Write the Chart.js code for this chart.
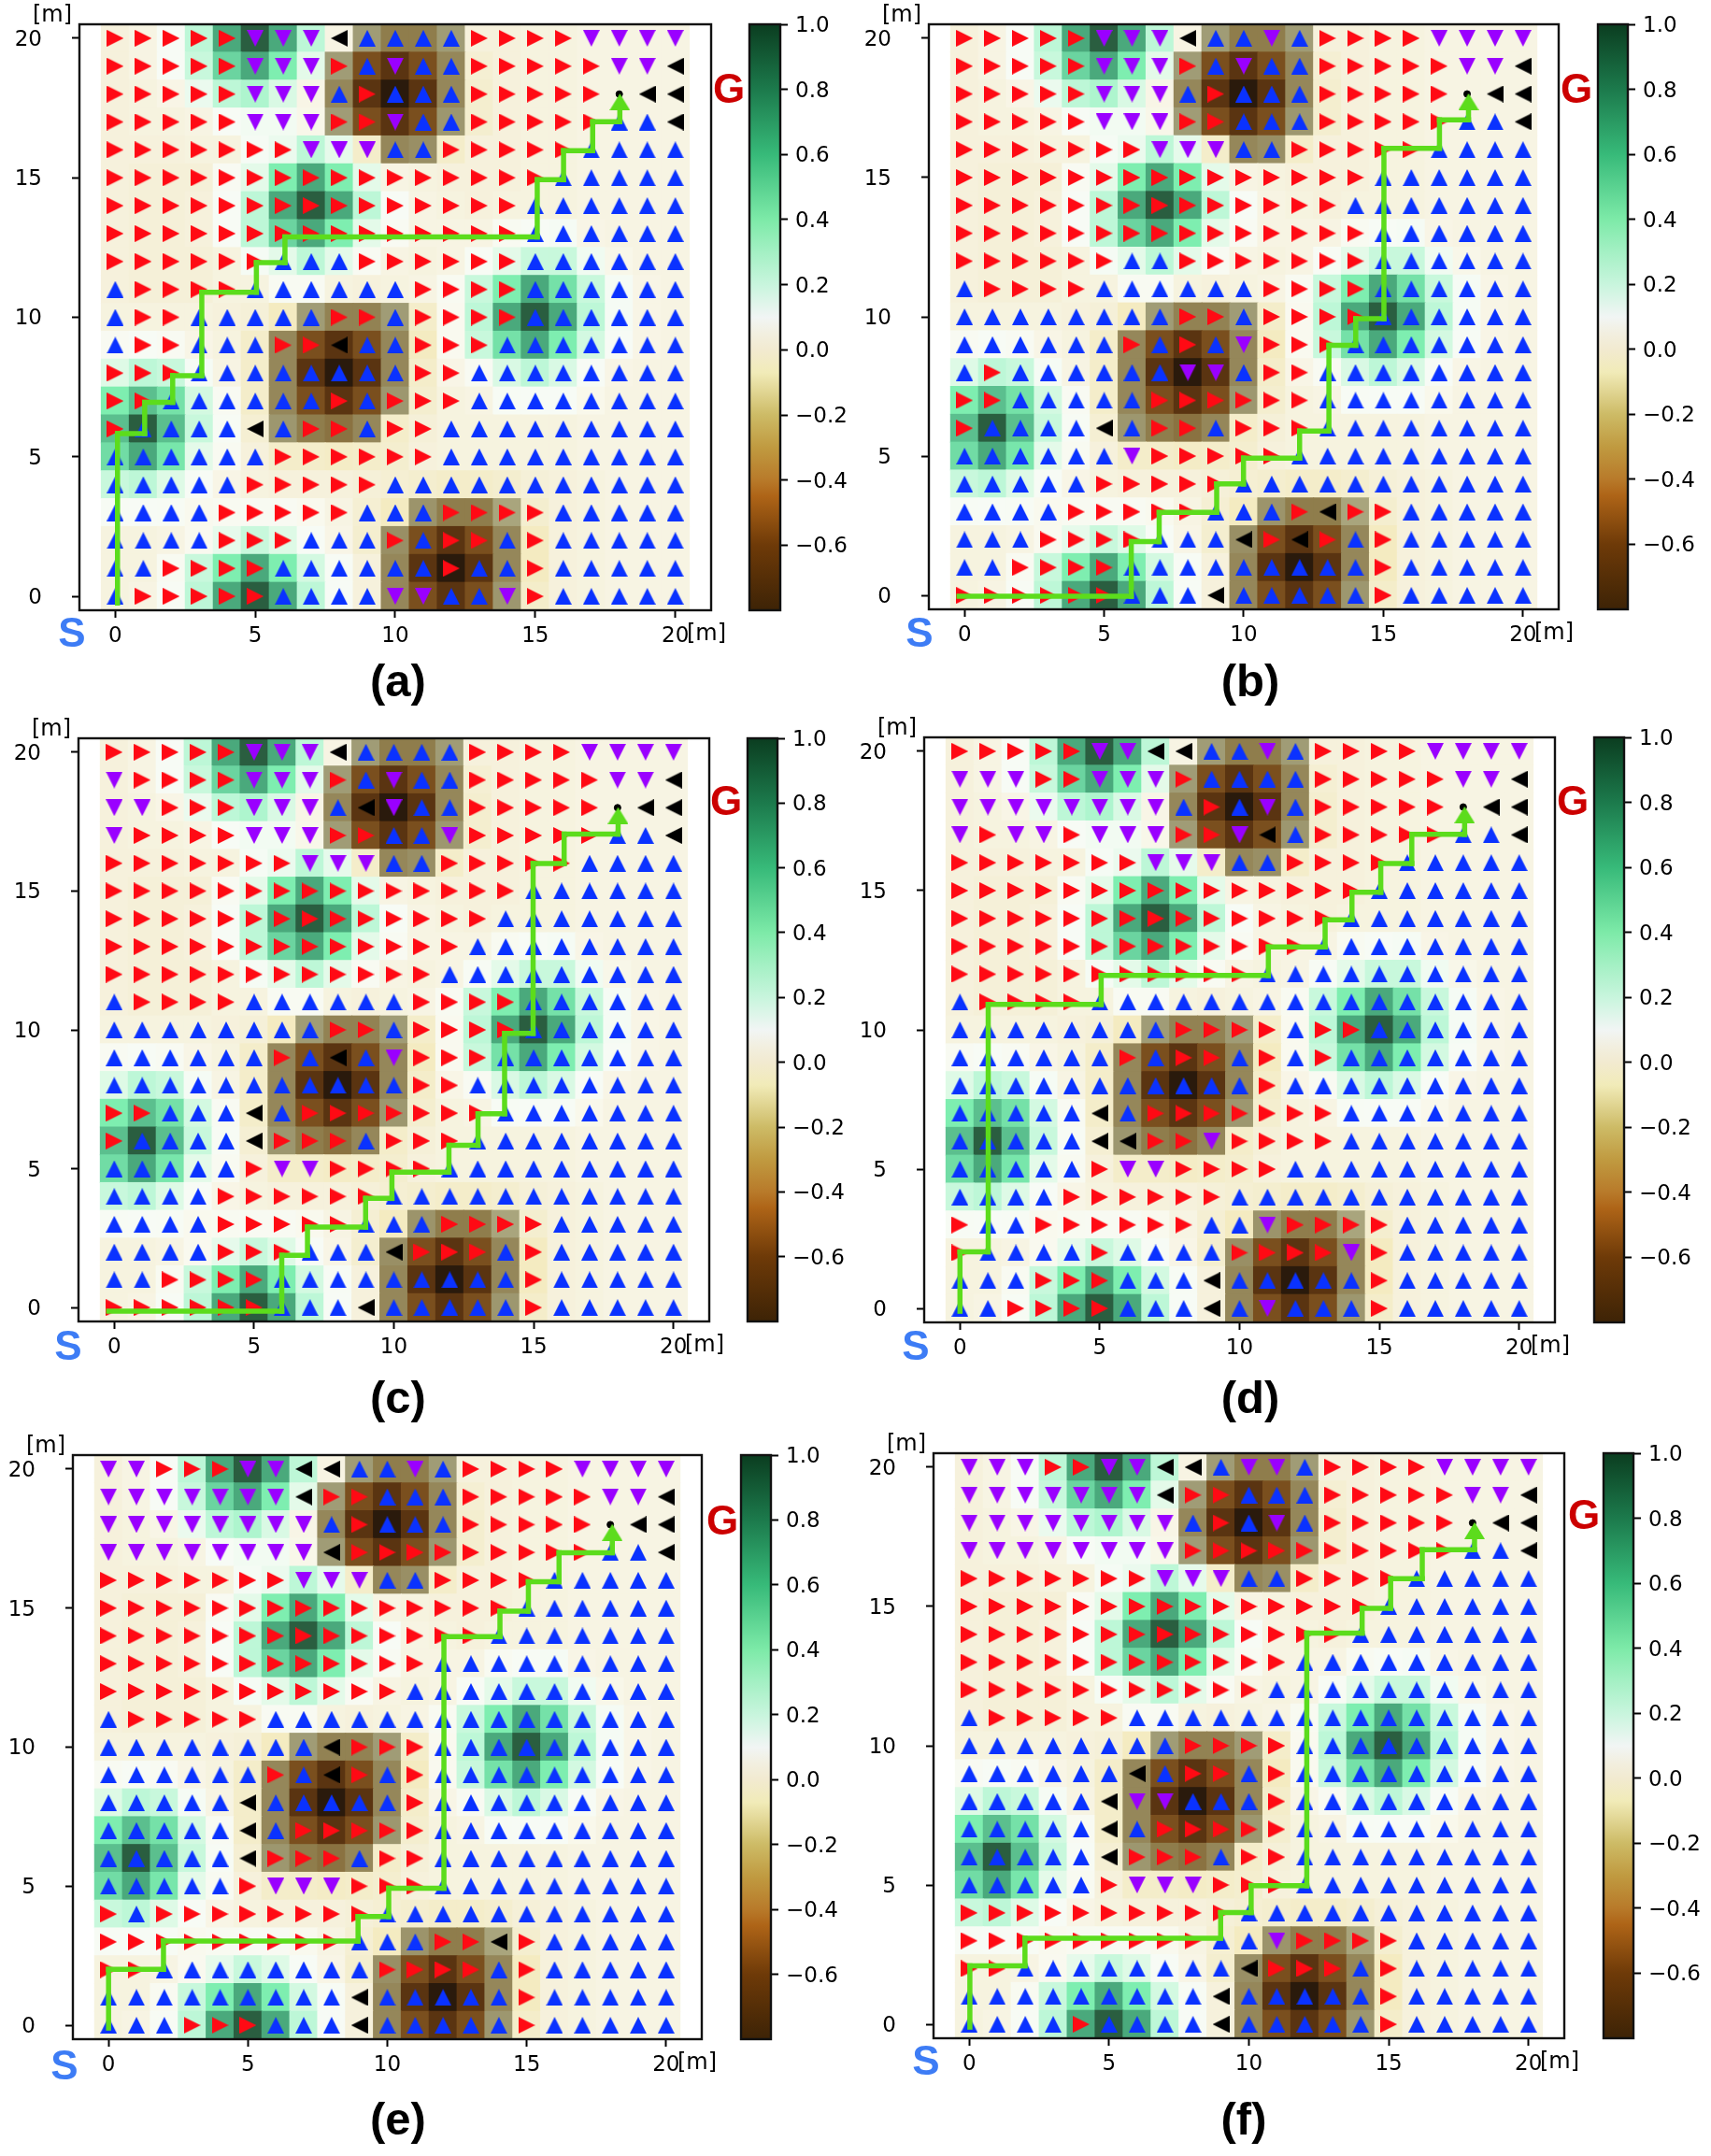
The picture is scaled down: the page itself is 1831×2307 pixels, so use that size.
<!DOCTYPE html>
<html>
<head>
<meta charset="utf-8">
<title>Six panels</title>
<script src="https://cdn.jsdelivr.net/npm/chart.js@4"></script>
<style>
  html, body { margin: 0; padding: 0; background: #fff; }
  #page { position: relative; width: 1831px; height: 2307px; overflow: hidden; }
  canvas { position: absolute; }
  .txt { position: absolute; transform: translate(-50%, -50%); line-height: 1; white-space: nowrap; }
  .unit { font: 24px "DejaVu Sans"; color: #000; }
  .mark { font: bold 44px "Liberation Sans"; }
  .title { font: bold 49px "Liberation Sans"; color: #000; }
</style>
</head>
<body>
<div id="page"></div>
<script>
// axis ticks
var xTickValues = [0, 5, 10, 15, 20];
var yTickValues = [0, 5, 10, 15, 20];
var barTickValues = [-0.6, -0.4, -0.2, 0, 0.2, 0.4, 0.6, 0.8, 1];

// heat values, top row is y=20, bottom row is y=0
var heatValues = [
  [-.04,-.02,.07,.22,.55,.8,.55,.22,-.02,-.3,-.42,-.42,-.3,-.04,-.04,-.03,-.03,-.02,-.02,-.02,-.02],
  [-.04,-.02,.07,.2,.45,.55,.35,.15,-.3,-.55,-.65,-.55,-.38,-.06,-.04,-.03,-.03,-.02,-.02,-.02,-.02],
  [-.04,-.03,-.01,.12,.22,.25,.17,-.01,-.38,-.65,-.78,-.65,-.38,-.07,-.04,-.03,-.03,-.02,-.02,-.02,-.02],
  [-.04,-.03,-.03,-.02,.07,.09,.09,0,-.3,-.55,-.65,-.55,-.32,-.07,-.04,-.03,-.03,-.02,-.02,-.02,-.02],
  [-.04,-.04,-.04,-.03,-.03,.08,.12,.22,.14,-.08,-.38,-.35,-.08,-.04,-.04,-.03,-.03,-.02,-.02,-.02,-.02],
  [-.04,-.05,-.05,-.05,.05,.15,.35,.55,.35,.15,-.02,-.03,-.04,-.04,-.04,-.03,-.03,-.02,-.02,-.02,-.02],
  [-.04,-.05,-.05,-.04,.07,.22,.55,.8,.55,.22,.07,-.02,-.03,-.04,-.03,-.03,-.03,-.02,-.02,-.02,-.02],
  [-.04,-.05,-.05,-.04,.07,.22,.45,.55,.35,.15,.05,-.02,-.02,-.02,.04,.07,.08,-.01,-.02,-.02,-.02],
  [-.04,-.05,-.05,-.05,-.03,.08,.15,.22,.15,.05,-.02,-.03,-.02,.06,.15,.2,.2,.1,0,-.02,-.02],
  [-.04,-.05,-.05,-.05,-.03,-.03,.05,.05,-.03,-.04,-.03,-.02,.04,.2,.35,.55,.4,.2,.08,-.01,-.02],
  [-.03,-.03,-.03,-.03,-.04,-.05,-.1,-.3,-.4,-.4,-.3,-.08,.03,.22,.55,.8,.55,.22,.08,-.01,-.02],
  [.05,.07,.05,-.01,-.03,-.08,-.38,-.55,-.65,-.55,-.38,-.1,.03,.2,.4,.55,.35,.18,.07,-.01,-.02],
  [.16,.22,.2,.08,-.02,-.08,-.38,-.65,-.78,-.65,-.38,-.08,-.01,.05,.17,.22,.17,.07,-.01,-.02,-.02],
  [.35,.5,.4,.18,.05,-.08,-.38,-.55,-.65,-.55,-.32,-.07,-.03,-.02,.06,.07,.07,.01,-.02,-.02,-.02],
  [.5,.8,.5,.2,.06,-.06,-.32,-.42,-.45,-.38,-.08,-.05,-.03,-.03,-.03,-.03,-.03,-.02,-.02,-.02,-.02],
  [.42,.55,.38,.15,.04,-.04,-.08,-.08,-.09,-.08,-.07,-.04,-.03,-.03,-.03,-.03,-.03,-.02,-.02,-.02,-.02],
  [.2,.22,.16,.07,-.01,-.03,-.04,-.04,-.04,-.05,-.06,-.07,-.08,-.08,-.07,-.05,-.04,-.03,-.02,-.02,-.02],
  [.06,.07,.06,.02,.04,.05,.05,.02,-.02,-.06,-.1,-.33,-.42,-.42,-.28,-.07,-.04,-.03,-.02,-.02,-.02],
  [-.03,-.03,-.02,.03,.14,.2,.16,.07,-.01,-.07,-.35,-.55,-.65,-.55,-.38,-.1,-.04,-.03,-.02,-.02,-.02],
  [-.03,-.03,.04,.2,.35,.55,.35,.18,.06,-.04,-.38,-.65,-.78,-.65,-.38,-.1,-.04,-.03,-.02,-.02,-.02],
  [-.03,-.02,.06,.22,.55,.8,.55,.22,.07,-.04,-.38,-.55,-.65,-.55,-.32,-.08,-.04,-.03,-.02,-.02,-.02]
];

// arrow directions, top row is y=20: r u d l, dot = goal
var arrowsA = [
  "rrrrrdddluuuurrrrdddd","rrrrrdddruduurrrrrddl","rrrrrddduruuurrrrr.ll","rrrrrdddrrduurrrrruul",
  "rrrrrrrddduurrrrruuuu","rrrrrrrrrrrrrrrruuuuu","rrrrrrrrrrrrrrruuuuuu","rrrrrrrrrrrrrrruuuuuu",
  "rrrrrruuurrrrrruuuuuu","urrrruuuuuurrrruuuuuu","urruuuuurrurrrruuuuuu","urruuurrluurrruuuuuuu",
  "rrruuuuuuuurruuuuuuuu","rruuuuuururrruuuuuuuu","ruuuulurrurruuuuuuuuu","uuuuuurrrrrruuuuuuuuu",
  "uuuuurrrrruuuuuuuuuuu","uuuurrrrruuurrrruuuuu","uuuurrruuururruruuuuu","uurrrruuuuuuruuruuuuu",
  "urrrrruuuudduudruuuuu"
];
var arrowsB = [
  "rrrrrdddluudurrrrdddd","rrrrrdddruduurrrrrddl","rrrrrddduruuurrrrr.ll","rrrrrdddrruuurrrrruul",
  "rrrrrrrddduurrrrruuuu","rrrrrrrrrrrrrrruuuuuu","rrrrrrrrrrrrrruuuuuuu","rrrrrrrrrrrrrrruuuuuu",
  "rrrrrruurrrrrrruuuuuu","urrrruuuuuurrrruuuuuu","uuuuuuuurrurrrruuuuuu","uuuuuururudrrruuuuuuu",
  "uruuuuuuddurruuuuuuuu","rruuuuurrrrrruuuuuuuu","ruuuulurrurrruuuuuuuu","uuuuuudrrrrruuuuuuuuu",
  "uuuuurrrrruuuuuuuuuuu","uuuurrrrruuurlrruuuuu","uuurrrruuulrlruruuuuu","uurrrruuuuuuuuuruuuuu",
  "rrrrrruuuluuuuuruuuuu"
];
var arrowsC = [
  "rrrrrdddluuuurrrrdddd","drrrrdddruduurrrrrddl","ddrrrdddulduurrrrr.ll","drrrrdddrruudrrrrruul",
  "rrrrrrrddduurrrrruuuu","rrrrrrrrrrrrrrruuuuuu","rrrrrrrrrrrrrruuuuuuu","rrrrrrrrrrrrruuuuuuuu",
  "rrrrrrrrrrrruuuuuuuuu","urrrruuuuuurrrruuuuuu","uuuuuuuurrurrrruuuuuu","uuuuuuruludrrruuuuuuu",
  "uuuuuuuuuuurruuuuuuuu","rruuulurrrrrrruuuuuuu","ruuuulrrrurrruuuuuuuu","uuuuurddrrrruuuuuuuuu",
  "uuuurrrrrruuuuuuuuuuu","uuuurrrrruuurrrruuuuu","uuuurrruuulrrruruuuuu","uurrrruuuuuuuuuruuuuu",
  "rrrrrruuuluuuuuruuuuu"
];
var arrowsD = [
  "rrrrrddlluudurrrrdddd","dddrrdddruuuurrrrrddl","ddddddddurudurrrrr.ll","drddrdddrrdlurrrrruul",
  "rrrrrrrddduurrrruuuuu","rrrrrrrrrrrrrrruuuuuu","rrrrrrrrrrrrrruuuuuuu","rrrrrrrrrrrrruuuuuuuu",
  "rrrrrrrrrrruuuuuuuuuu","urrrruuuuuuuuuuuuuuuu","uuuuuuuurrrrurruuuuuu","uuuuuururrururuuuuuuu",
  "uuuuuuuuuuuruuuuuuuuu","uuuuulurrrrrrruuuuuuu","uuuuullrrdrrrruuuuuuu","uuuuurddrrrruuuuuuuuu",
  "uuuurrrrrruuuuuuuuuuu","ruurrrrrruudrrrruuuuu","ruuuuruuuurrrrdruuuuu","uuurrruuuluuuuuruuuuu",
  "uurrrruuuluduuuruuuuu"
];
var arrowsE = [
  "ddrrrddlluudurrrrdddd","dddddddlrruuurrrrrddl","dddddddduruuurrrrr.ll","ddddddddlrrrrrrrrruul",
  "rrrrrrrddduurrrruuuuu","rrrrrrrrrrrrrrruuuuuu","rrrrrrrrrrrrrruuuuuuu","rrrrrrrrrrrruuuuuuuuu",
  "rrrrrrrrrrruuuuuuuuuu","urrrrruuuuuuuuuuuuuuu","uuuuuuuulrrruuuuuuuuu","uuuuuurulruruuuuuuuuu",
  "uuuuuluuuuuruuuuuuuuu","uuuuulurrrrruuuuuuuuu","uuuuulrrrurruuuuuuuuu","uuuuurdddrrruuuuuuuuu",
  "rurrrrrrrruuuuuuuuuuu","rrrrrrrrruuurrlruuuuu","rruuuuuuuurrrruruuuuu","uuuuuuuuuluuuuuruuuuu",
  "uuurrruuuluuuuuruuuuu"
];
var arrowsF = [
  "dddrrddlluddurrrrdddd","dddddddlrruuurrrrrddl","ddddddddurudurrrrr.ll","ddddddddrrrrrrrrrruul",
  "rrrrrrrddduurrrruuuuu","rrrrrrrrrrrrrrruuuuuu","rrrrrrrrrrrrrruuuuuuu","rrrrrrrrrrrruuuuuuuuu",
  "rrrrrrrrrrruuuuuuuuuu","urrrrruuuuuuuuuuuuuuu","uuuuuuuurrrruuuuuuuuu","uuuuuulurruruuuuuuuuu",
  "uuuuuldduuuruuuuuuuuu","uuuuulurrrrruuuuuuuuu","uuuuulrrrurruuuuuuuuu","uuuuurdddrrruuuuuuuuu",
  "rrrrrrrrrruuuuuuuuuuu","rrrrrrrrruudrrrruuuuu","rruuuuuuuulrrruruuuuu","uuuuuuuuuluuuuuruuuuu",
  "uuuuruuuuluuuuuruuuuu"
];

// green route corners [x, y]
var pathA = [[.08,-.24],[.08,5.83],[1.05,5.83],[1.05,6.95],[2.05,6.95],[2.05,7.91],[3.09,7.91],[3.09,10.9],[5.04,10.9],[5.04,11.96],[6.06,11.96],[6.06,12.88],[15.07,12.88],[15.07,14.93],[16.01,14.93],[16.01,15.97],[17.05,15.97],[17.05,17.01],[18.02,17.01],[18.02,17.5]];
var pathB = [[-.2,-.03],[5.97,-.03],[5.97,1.93],[6.97,1.93],[6.97,2.98],[9.03,2.98],[9.03,4],[9.99,4],[9.99,4.93],[12,4.93],[12,5.9],[13.05,5.9],[13.05,8.98],[14.01,8.98],[14.01,9.93],[15.02,9.93],[15.02,16.05],[17.01,16.05],[17.01,17.07],[18.05,17.07],[18.05,17.5]];
var pathC = [[-.2,-.13],[5.99,-.13],[5.99,1.88],[6.91,1.88],[6.91,2.9],[8.99,2.9],[8.99,3.93],[9.93,3.93],[9.93,4.88],[11.97,4.88],[11.97,5.84],[13.01,5.84],[13.01,6.98],[13.96,6.98],[13.96,9.87],[14.98,9.87],[14.98,15.99],[16.09,15.99],[16.09,17.05],[18.02,17.05],[18.02,17.5]];
var pathD = [[0,-.1],[0,2.03],[1.01,2.03],[1.01,10.91],[5.05,10.91],[5.05,11.95],[11.03,11.95],[11.03,12.98],[13.06,12.98],[13.06,13.95],[14.02,13.95],[14.02,14.94],[15.05,14.94],[15.05,15.97],[16.16,15.97],[16.16,17.02],[18.05,17.02],[18.05,17.5]];
var pathE = [[0,-.1],[0,2.01],[1.97,2.01],[1.97,3.03],[8.95,3.03],[8.95,3.91],[10.05,3.91],[10.05,4.93],[12.03,4.93],[12.03,13.97],[14.04,13.97],[14.04,14.89],[15.06,14.89],[15.06,15.95],[16.16,15.95],[16.16,16.99],[18.07,16.99],[18.07,17.5]];
var pathF = [[.02,-.1],[.02,2.1],[1.99,2.1],[1.99,3.09],[8.99,3.09],[8.99,4.01],[10.08,4.01],[10.08,4.98],[12.07,4.98],[12.07,14.04],[14.05,14.04],[14.05,14.93],[15.07,14.93],[15.07,16],[16.2,16],[16.2,17.04],[18.07,17.04],[18.07,17.5]];

// colours of the cells in the picture (value, colour)
var cellStops = [
  [-.8,"#22150a"],[-.78,"#2a1a0c"],[-.65,"#5a3411"],[-.55,"#7a4f1e"],[-.42,"#8f7d4c"],[-.3,"#a09c76"],
  [-.12,"#f3e9b8"],[-.05,"#f5f0d8"],[-.02,"#f7f4e3"],[.02,"#f9f9ee"],[.07,"#f7fbf5"],[.15,"#e4fae9"],
  [.22,"#bdf7d7"],[.35,"#7eeeb0"],[.45,"#6bd4a0"],[.55,"#4aa97c"],[.8,"#2a5e40"],[1,"#0b3d20"]
];
// colours of the colour bar
var barStops = [
  [-.8,"#3d2306"],[-.6,"#6e3a08"],[-.45,"#ae6417"],[-.4,"#b87a2a"],[-.3,"#c09a40"],[-.2,"#cdbb66"],
  [-.07,"#f1ebb8"],[0,"#f2ead0"],[.05,"#f2efe0"],[.1,"#f1f5f4"],[.2,"#c8f5dd"],[.3,"#a4f0c4"],
  [.4,"#7deaa8"],[.6,"#37ba79"],[.8,"#1c7a4c"],[1,"#0b3d20"]
];

// where each panel sits on the page
var panels = [
  {arrows: arrowsA, path: pathA, title: "(a)", L: 85, R: 761, T: 26, B: 653, cbL: 802, cbR: 835, gx: 780, gy: 95, sx: 77, sy: 677, tx: 426, ty: 728},
  {arrows: arrowsB, path: pathB, title: "(b)", L: 994, R: 1668, T: 26, B: 652, cbL: 1710, cbR: 1742, gx: 1687, gy: 95, sx: 984, sy: 677, tx: 1338, ty: 728},
  {arrows: arrowsC, path: pathC, title: "(c)", L: 84, R: 759, T: 790, B: 1414, cbL: 800, cbR: 832, gx: 777, gy: 857, sx: 73, sy: 1440, tx: 426, ty: 1495},
  {arrows: arrowsD, path: pathD, title: "(d)", L: 989, R: 1664, T: 789, B: 1415, cbL: 1706, cbR: 1738, gx: 1683, gy: 857, sx: 980, sy: 1440, tx: 1338, ty: 1495},
  {arrows: arrowsE, path: pathE, title: "(e)", L: 78, R: 751, T: 1557, B: 2182, cbL: 793, cbR: 825, gx: 773, gy: 1627, sx: 69, sy: 2210, tx: 426, ty: 2267},
  {arrows: arrowsF, path: pathF, title: "(f)", L: 999, R: 1674, T: 1555, B: 2181, cbL: 1716, cbR: 1748, gx: 1695, gy: 1621, sx: 991, sy: 2205, tx: 1331, ty: 2267}
];

var arrowColours = {u: "#0a32ff", r: "#ff0a14", d: "#9a00ff", l: "#000000"};
var fontFamily = "DejaVu Sans";

function hexToRgb(hex) {
  return [parseInt(hex.substr(1, 2), 16), parseInt(hex.substr(3, 2), 16), parseInt(hex.substr(5, 2), 16)];
}

// value to colour, straight lines between the stops
function cellColour(value) {
  for (var i = 1; i < cellStops.length; i++) {
    if (value <= cellStops[i][0]) {
      var a = cellStops[i - 1], b = cellStops[i];
      var t = (value - a[0]) / (b[0] - a[0]);
      var ca = hexToRgb(a[1]), cb = hexToRgb(b[1]);
      return "rgb(" + Math.round(ca[0] + (cb[0] - ca[0]) * t) + "," +
        Math.round(ca[1] + (cb[1] - ca[1]) * t) + "," +
        Math.round(ca[2] + (cb[2] - ca[2]) * t) + ")";
    }
  }
  return cellStops[cellStops.length - 1][1];
}

// triangle picture used as a point style
function makeTriangle(dir, colour, w, h) {
  var c = document.createElement("canvas");
  c.width = w;
  c.height = h;
  var ctx = c.getContext("2d");
  ctx.fillStyle = colour;
  ctx.beginPath();
  if (dir == "u") { ctx.moveTo(w / 2, 0); ctx.lineTo(w, h); ctx.lineTo(0, h); }
  if (dir == "d") { ctx.moveTo(0, 0); ctx.lineTo(w, 0); ctx.lineTo(w / 2, h); }
  if (dir == "r") { ctx.moveTo(0, 0); ctx.lineTo(w, h / 2); ctx.lineTo(0, h); }
  if (dir == "l") { ctx.moveTo(w, 0); ctx.lineTo(w, h); ctx.lineTo(0, h / 2); }
  ctx.closePath();
  ctx.fill();
  return c;
}

var sprites = {
  u: makeTriangle("u", arrowColours.u, 18, 18),
  r: makeTriangle("r", arrowColours.r, 18, 18),
  d: makeTriangle("d", arrowColours.d, 18, 18),
  l: makeTriangle("l", arrowColours.l, 18, 18)
};
var headSprite = makeTriangle("u", "#5cdc1c", 22, 18);

// box round the plot
var framePlugin = {
  id: "frame",
  afterDraw: function(chart) {
    var a = chart.chartArea, ctx = chart.ctx;
    ctx.save();
    ctx.strokeStyle = "#111";
    ctx.lineWidth = 2.4;
    ctx.strokeRect(a.left, a.top, a.right - a.left, a.bottom - a.top);
    ctx.restore();
  }
};

function setTicks(values) {
  return function(axis) {
    axis.ticks = values.map(function(v) { return {value: v}; });
  };
}

// fixed size for an axis, and no extra room for its labels
function fixAxis(prop, size) {
  return function(s) {
    s[prop] = size;
    s.paddingTop = 0;
    s.paddingBottom = 0;
    s.paddingLeft = 0;
    s.paddingRight = 0;
  };
}

function addText(cls, text, x, y, colour) {
  var d = document.createElement("div");
  d.className = "txt " + cls;
  d.textContent = text;
  d.style.left = x + "px";
  d.style.top = y + "px";
  if (colour) d.style.color = colour;
  document.getElementById("page").appendChild(d);
}

function addCanvas(left, top, w, h) {
  var c = document.createElement("canvas");
  c.width = w;
  c.height = h;
  c.style.left = left + "px";
  c.style.top = top + "px";
  c.style.width = w + "px";
  c.style.height = h + "px";
  document.getElementById("page").appendChild(c);
  return c;
}

function drawPanel(p) {
  var leftSpace = 84, rightSpace = 8, topSpace = 10, bottomSpace = 50;
  var canvas = addCanvas(p.L - leftSpace, p.T - topSpace, p.R - p.L + leftSpace + rightSpace, p.B - p.T + topSpace + bottomSpace);
  var xMin = -1.28, xMax = 21.28;

  // heat cells as floating bars
  var cells = [], colours = [];
  heatValues.forEach(function(row, r) {
    row.forEach(function(v, col) {
      var y = 20 - r;
      cells.push({x: col, y: [y - 0.5, y + 0.5]});
      colours.push(cellColour(v));
    });
  });

  var datasets = [{
    type: "bar",
    data: cells,
    backgroundColor: colours,
    barThickness: (p.R - p.L) / (xMax - xMin),
    inflateAmount: 0.5,
    borderWidth: 0,
    order: 5
  }];

  // one set of points for each arrow direction
  ["u", "r", "d", "l"].forEach(function(dir) {
    var pts = [];
    p.arrows.forEach(function(row, r) {
      for (var col = 0; col < row.length; col++) {
        if (row.charAt(col) == dir) pts.push({x: col, y: 20 - r});
      }
    });
    datasets.push({
      type: "scatter",
      data: pts,
      pointStyle: sprites[dir],
      pointRadius: 9,
      order: 4
    });
  });

  // route, one piece for each leg so the ends stick out at corners
  for (var i = 1; i < p.path.length; i++) {
    datasets.push({
      type: "scatter",
      showLine: true,
      data: [{x: p.path[i - 1][0], y: p.path[i - 1][1]}, {x: p.path[i][0], y: p.path[i][1]}],
      borderColor: "#5cdc1c",
      borderWidth: 5.5,
      borderCapStyle: "square",
      pointRadius: 0,
      order: 3
    });
  }

  var last = p.path[p.path.length - 1];
  // goal dot
  datasets.push({type: "scatter", data: [{x: 18, y: 18}], pointStyle: "circle", pointRadius: 3.5, backgroundColor: "#000", borderColor: "#000", order: 2});
  // arrow head of the route
  datasets.push({type: "scatter", data: [{x: last[0], y: 17.72}], pointStyle: headSprite, pointRadius: 9, order: 1});

  new Chart(canvas.getContext("2d"), {
    type: "scatter",
    data: {datasets: datasets},
    plugins: [framePlugin],
    options: {
      responsive: false,
      animation: false,
      devicePixelRatio: 1,
      layout: {autoPadding: false, padding: {top: topSpace, right: rightSpace, left: 0, bottom: 0}},
      plugins: {legend: {display: false}, tooltip: {enabled: false}},
      scales: {
        x: {
          type: "linear", min: xMin, max: xMax, offset: false,
          afterBuildTicks: setTicks(xTickValues),
          afterFit: fixAxis("height", bottomSpace),
          border: {display: false},
          grid: {offset: false, drawOnChartArea: false, tickLength: 8, tickWidth: 2, tickColor: "#000"},
          ticks: {autoSkip: false, maxRotation: 0, padding: 6, color: "#000", font: {family: fontFamily, size: 23}}
        },
        y: {
          type: "linear", min: -0.5, max: 20.5,
          afterBuildTicks: setTicks(yTickValues),
          afterFit: fixAxis("width", leftSpace),
          border: {display: false},
          grid: {drawOnChartArea: false, tickLength: 8, tickWidth: 2, tickColor: "#000"},
          ticks: {autoSkip: false, padding: 32, labelOffset: 2, color: "#000", font: {family: fontFamily, size: 23}}
        }
      }
    }
  });
}

function drawColourBar(p) {
  var topSpace = 14, bottomSpace = 12, rightSpace = 84;
  var canvas = addCanvas(p.cbL - 2, p.T - topSpace, p.cbR - p.cbL + 2 + rightSpace, p.B - p.T + topSpace + bottomSpace);

  new Chart(canvas.getContext("2d"), {
    type: "bar",
    data: {datasets: [{
      data: [{x: 0, y: [-0.8, 1]}],
      barThickness: p.cbR - p.cbL,
      inflateAmount: 0,
      backgroundColor: function(ctx) {
        var area = ctx.chart.chartArea;
        // nothing to measure until the layout is done
        if (!area || !isFinite(area.top) || !isFinite(area.bottom)) return barStops[0][1];
        var g = ctx.chart.ctx.createLinearGradient(0, area.bottom, 0, area.top);
        barStops.forEach(function(s) { g.addColorStop((s[0] + 0.8) / 1.8, s[1]); });
        return g;
      }
    }]},
    plugins: [framePlugin],
    options: {
      responsive: false,
      animation: false,
      devicePixelRatio: 1,
      layout: {autoPadding: false, padding: {top: topSpace, bottom: bottomSpace, left: 2, right: 0}},
      plugins: {legend: {display: false}, tooltip: {enabled: false}},
      scales: {
        x: {type: "linear", min: -0.5, max: 0.5, display: false, offset: false},
        y: {
          type: "linear", position: "right", min: -0.8, max: 1,
          afterBuildTicks: setTicks(barTickValues),
          afterFit: fixAxis("width", rightSpace),
          border: {display: false},
          grid: {drawOnChartArea: false, tickLength: 8, tickWidth: 2, tickColor: "#000"},
          ticks: {
            autoSkip: false, padding: 8, labelOffset: 2, color: "#000", font: {family: fontFamily, size: 23},
            callback: function(v) { return v < 0 ? "\u2212" + Math.abs(v).toFixed(1) : v.toFixed(1); }
          }
        }
      }
    }
  });
}

function drawLabels(p) {
  addText("unit", "[m]", p.L - 29, p.T - 11);
  addText("unit", "[m]", p.R - 5, p.B + 24);
  addText("mark", "G", p.gx, p.gy, "#cc0000");
  addText("mark", "S", p.sx, p.sy, "#3d7cf5");
  addText("title", p.title, p.tx, p.ty);
}

panels.forEach(function(p) {
  drawPanel(p);
  drawColourBar(p);
  drawLabels(p);
});
</script>
</body>
</html>
